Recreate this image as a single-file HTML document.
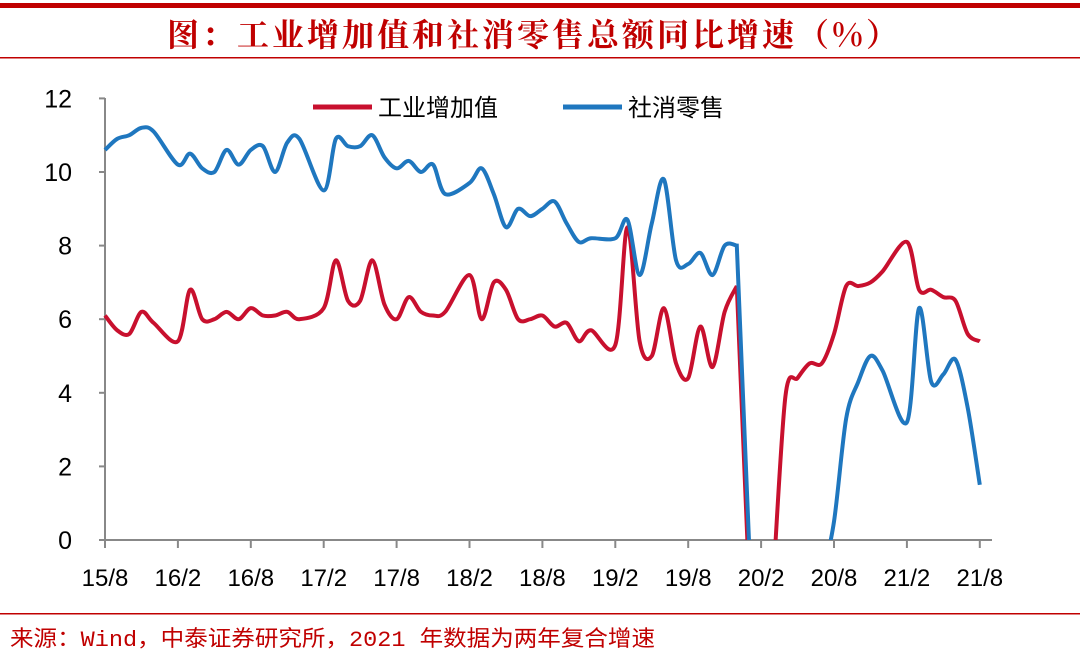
<!DOCTYPE html>
<html><head><meta charset="utf-8"><style>
html,body{margin:0;width:1080px;height:668px;background:#fff;overflow:hidden}
svg{display:block}
</style></head><body>
<svg id="s" width="1080" height="668" xmlns="http://www.w3.org/2000/svg">
<rect x="0" y="3" width="1080" height="5" fill="#c00000"/>
<text x="534" y="46" text-anchor="middle" font-family="'Noto Serif CJK SC','Noto Sans CJK SC',serif" font-weight="bold" font-size="32" letter-spacing="3" fill="#c00000">图：工业增加值和社消零售总额同比增速（%）</text>
<rect x="0" y="57" width="1080" height="1.5" fill="#c00000"/>
<rect x="0" y="613" width="1080" height="1.5" fill="#c00000"/>
<text x="10" y="646" font-family="'Liberation Mono','Noto Sans CJK SC',monospace" font-size="22" fill="#c00000" textLength="645" lengthAdjust="spacingAndGlyphs">来源：Wind，中泰证券研究所，2021 年数据为两年复合增速</text>
<g font-family="'Liberation Sans',sans-serif" font-size="25" fill="#000" text-anchor="end" id="yl"></g>
<g id="ax" stroke="#888" stroke-width="2"></g>
<g font-family="'Liberation Sans',sans-serif" font-size="24" fill="#000" text-anchor="middle" id="xl"></g>
<defs><clipPath id="c"><rect x="100" y="90" width="900" height="450"/></clipPath></defs>
<g clip-path="url(#c)" fill="none" stroke-width="4">
<path id="pr" stroke="#c8102e"/>
<path id="pb" stroke="#1f77bf"/>
</g>
<line x1="313" y1="107" x2="372" y2="107" stroke="#c8102e" stroke-width="5"/>
<text x="378" y="116" font-family="'Noto Sans CJK SC',sans-serif" font-size="24">工业增加值</text>
<line x1="563" y1="107" x2="622" y2="107" stroke="#1f77bf" stroke-width="5"/>
<text x="628" y="116" font-family="'Noto Sans CJK SC',sans-serif" font-size="24">社消零售</text>
</svg>
<script>
var X0=105,DX=12.15,Y0=540,DY=36.8;
function X(m){return X0+m*DX}function Y(v){return Y0-v*DY}
var s='',a='',xl='';
for(var i=0;i<=12;i+=2){s+='<text x="72" y="'+(Y(i)+9)+'">'+i+'</text>';a+='<line x1="99" y1="'+Y(i)+'" x2="105" y2="'+Y(i)+'"/>';}
a+='<line x1="105" y1="98" x2="105" y2="540"/><line x1="105" y1="540" x2="992" y2="540"/>';
var lb=['15/8','16/2','16/8','17/2','17/8','18/2','18/8','19/2','19/8','20/2','20/8','21/2','21/8'];
for(var k=0;k<13;k++){var x=X(k*6);a+='<line x1="'+x+'" y1="540" x2="'+x+'" y2="548"/>';xl+='<text x="'+x+'" y="586">'+lb[k]+'</text>';}
document.getElementById('yl').innerHTML=s;document.getElementById('ax').innerHTML=a;document.getElementById('xl').innerHTML=xl;
var R=[6.1,5.7,5.6,6.2,5.9,null,5.4,6.8,6.0,6.0,6.2,6.0,6.3,6.1,6.1,6.2,6.0,null,6.3,7.6,6.5,6.5,7.6,6.4,6.0,6.6,6.2,6.1,6.2,null,7.2,6.0,7.0,6.8,6.0,6.0,6.1,5.8,5.9,5.4,5.7,null,5.3,8.5,5.4,5.0,6.3,4.8,4.4,5.8,4.7,6.2,6.9,null,-9,-1.1,3.9,4.4,4.8,4.8,5.6,6.9,6.9,7.0,7.3,null,8.1,6.8,6.8,6.6,6.5,5.6,5.4];
var B=[10.6,10.9,11.0,11.2,11.1,null,10.2,10.5,10.1,10.0,10.6,10.2,10.6,10.7,10.0,10.8,10.9,null,9.5,10.9,10.7,10.7,11.0,10.4,10.1,10.3,10.0,10.2,9.4,null,9.7,10.1,9.4,8.5,9.0,8.8,9.0,9.2,8.6,8.1,8.2,null,8.2,8.7,7.2,8.6,9.8,7.6,7.5,7.8,7.2,8.0,8.0,null,-8,-15.8,-7.5,-2.8,-1.8,-1.1,0.5,3.3,4.3,5.0,4.6,null,3.2,6.3,4.3,4.5,4.9,3.6,1.5];
function path(v){var p=[];for(var i=0;i<v.length;i++)if(v[i]!==null)p.push([X(i),Y(v[i]),v[i]]);
var d='M'+p[0][0]+','+p[0][1];var t=0.16;
function ok(q){return q&&q[2]>-1.5;}
for(var i=0;i<p.length-1;i++){var p1=p[i],p2=p[i+1];
if(!ok(p1)||!ok(p2)){d+=' L'+p2[0]+','+p2[1];continue;}
var p0=ok(p[i-1])?p[i-1]:p1,p3=ok(p[i+2])?p[i+2]:p2;
d+=' C'+(p1[0]+(p2[0]-p0[0])*t)+','+(p1[1]+(p2[1]-p0[1])*t)+' '+(p2[0]-(p3[0]-p1[0])*t)+','+(p2[1]-(p3[1]-p1[1])*t)+' '+p2[0]+','+p2[1];}
return d;}
document.getElementById('pr').setAttribute('d',path(R));
document.getElementById('pb').setAttribute('d',path(B));
</script>
</body></html>
